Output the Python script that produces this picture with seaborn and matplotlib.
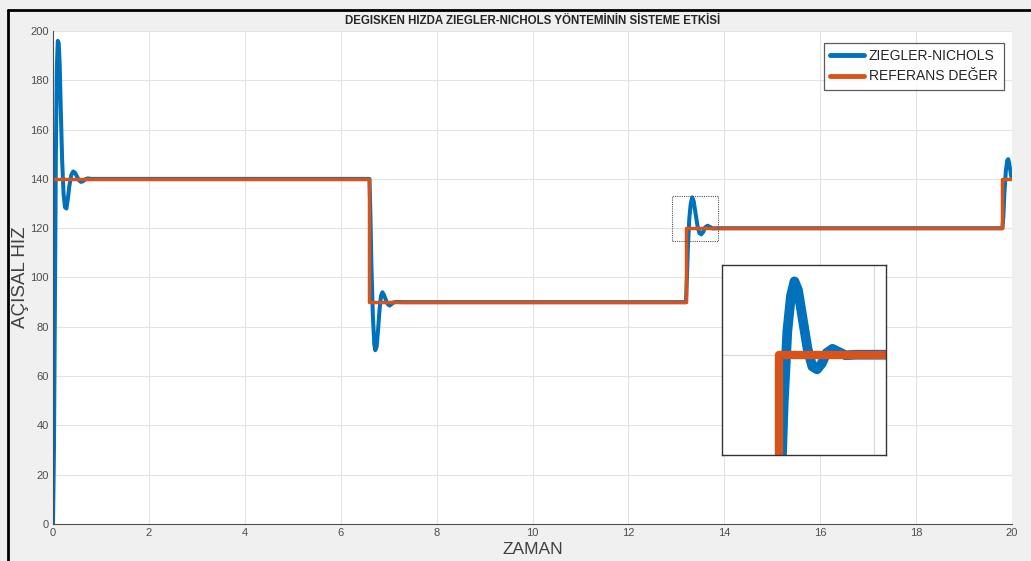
import numpy as np
import pandas as pd
import seaborn as sns
import matplotlib.pyplot as plt
from matplotlib.patches import Rectangle
from matplotlib.lines import Line2D

# Ziegler-Nichols response (time, angular speed)
zn_time = [0.0, 0.02, 0.04, 0.06, 0.08, 0.10, 0.12, 0.14, 0.16, 0.19, 0.22, 0.25, 0.28, 0.31,
           0.34, 0.38, 0.42, 0.46, 0.50, 0.54, 0.58, 0.62, 0.67, 0.72, 0.80, 1.0,
           6.6, 6.62, 6.64, 6.67, 6.70, 6.72, 6.75, 6.78, 6.81, 6.84, 6.87, 6.90, 6.94,
           6.98, 7.02, 7.06, 7.10, 7.16, 7.3,
           13.2, 13.22, 13.24, 13.27, 13.30, 13.33, 13.36, 13.40, 13.44, 13.48, 13.52,
           13.56, 13.60, 13.65, 13.70, 13.76, 13.85,
           19.8, 19.82, 19.84, 19.87, 19.90, 19.92, 19.94, 19.96, 19.98, 20.0]
zn_speed = [0, 30, 90, 150, 185, 196, 195, 186, 170, 148, 134, 128.5, 128, 132,
            137, 141.5, 143, 142.5, 141, 139.5, 138.8, 139, 139.8, 140.2, 140, 140,
            140, 125, 105, 85, 73, 70.5, 72, 79, 87, 92.5, 94, 93, 91,
            89.2, 88.6, 89.2, 89.9, 90.1, 90,
            90, 100, 112, 124, 130, 132.5, 131, 126, 121, 118, 117.5,
            118.5, 120.3, 121, 120.5, 119.9, 120,
            120, 125, 134, 143, 147.5, 148, 146.5, 144, 141.5, 140]

# Reference value (step profile)
ref_time = [0.0, 6.6, 6.6, 13.2, 13.2, 19.8, 19.8, 20.0]
ref_speed = [140, 140, 90, 90, 120, 120, 140, 140]

x_ticks = [0, 2, 4, 6, 8, 10, 12, 14, 16, 18, 20]
y_ticks = [0, 20, 40, 60, 80, 100, 120, 140, 160, 180, 200]

zn_df = pd.DataFrame({"ZAMAN": zn_time, "HIZ": zn_speed})
ref_df = pd.DataFrame({"ZAMAN": ref_time, "HIZ": ref_speed})

BLUE = "#0072BD"
ORANGE = "#D95319"

sns.set_style("white")
plt.rcParams["font.family"] = ["Liberation Sans", "DejaVu Sans"]

fig = plt.figure(figsize=(10.31, 5.61), dpi=100)
fig.patch.set_facecolor("#f0f0f0")
ax = fig.add_axes([0.0514, 0.066, 0.9302, 0.8787])
ax.set_facecolor("white")

sns.lineplot(data=zn_df, x="ZAMAN", y="HIZ", ax=ax, color=BLUE, linewidth=2.9,
             estimator=None, sort=False, label="ZIEGLER-NICHOLS")
sns.lineplot(data=ref_df, x="ZAMAN", y="HIZ", ax=ax, color=ORANGE, linewidth=2.5,
             estimator=None, sort=False, label="REFERANS DEĞER")

ax.set_xlim(0, 20)
ax.set_ylim(0, 200)
ax.set_xticks(x_ticks)
ax.set_yticks(y_ticks)
ax.grid(True, color="#e3e3e3", linewidth=0.8)
ax.tick_params(direction="in", length=5, width=0.8, colors="#4d4d4d",
               labelsize=8, pad=3)
for side in ["top", "right"]:
    ax.spines[side].set_visible(False)
for side in ["left", "bottom"]:
    ax.spines[side].set_color("#4d4d4d")
    ax.spines[side].set_linewidth(0.8)

ax.set_xlabel("ZAMAN", fontsize=12.5, color="#404040", labelpad=3)
ax.set_ylabel("AÇISAL HIZ", fontsize=13.5, color="#404040", labelpad=1)
ax.set_title("DEGISKEN HIZDA ZIEGLER-NICHOLS YÖNTEMİNİN SİSTEME ETKİSİ",
             fontsize=8.3, fontweight="bold", pad=5)

handles = [Line2D([], [], color=BLUE, linewidth=3.5),
           Line2D([], [], color=ORANGE, linewidth=3.5)]
leg = ax.legend(handles, ["ZIEGLER-NICHOLS", "REFERANS DEĞER"], loc="upper right",
                bbox_to_anchor=(0.9985, 0.99), fancybox=False, frameon=True,
                handlelength=2.5, handletextpad=0.3, borderpad=0.45,
                labelspacing=0.45, prop={"size": 10})
leg.get_frame().set_edgecolor("#333333")
leg.get_frame().set_linewidth(0.9)

# dotted zoom box on main axes
ax.add_patch(Rectangle((12.90, 114.7), 0.96, 18.4, fill=False, linestyle=(0, (1, 1)),
                       edgecolor="#555555", linewidth=0.8, zorder=5))

# magnified inset
ins = fig.add_axes([0.7003, 0.189, 0.159, 0.3387])
ins.set_facecolor("white")
sns.lineplot(data=zn_df, x="ZAMAN", y="HIZ", ax=ins, color=BLUE, linewidth=7,
             estimator=None, sort=False, legend=False)
sns.lineplot(data=ref_df, x="ZAMAN", y="HIZ", ax=ins, color=ORANGE, linewidth=6,
             estimator=None, sort=False, legend=False)
ins.set_xlim(12.72, 14.1)
ins.set_ylim(102.9, 135.3)
ins.set_xticks([14])
ins.set_yticks([120])
ins.set_xticklabels([])
ins.set_yticklabels([])
ins.tick_params(length=0)
ins.set_xlabel("")
ins.set_ylabel("")
ins.grid(True, color="#dcdcdc", linewidth=1.0)
for s in ins.spines.values():
    s.set_color("#333333")
    s.set_linewidth(1.0)

# screenshot frame edges
fig.add_artist(Line2D([0.008, 0.008], [0.0, 0.982], transform=fig.transFigure,
                      color="black", linewidth=2))
fig.add_artist(Line2D([0.008, 1.0], [0.982, 0.982], transform=fig.transFigure,
                      color="black", linewidth=2))

fig.savefig("out.png", dpi=100, facecolor=fig.get_facecolor())
